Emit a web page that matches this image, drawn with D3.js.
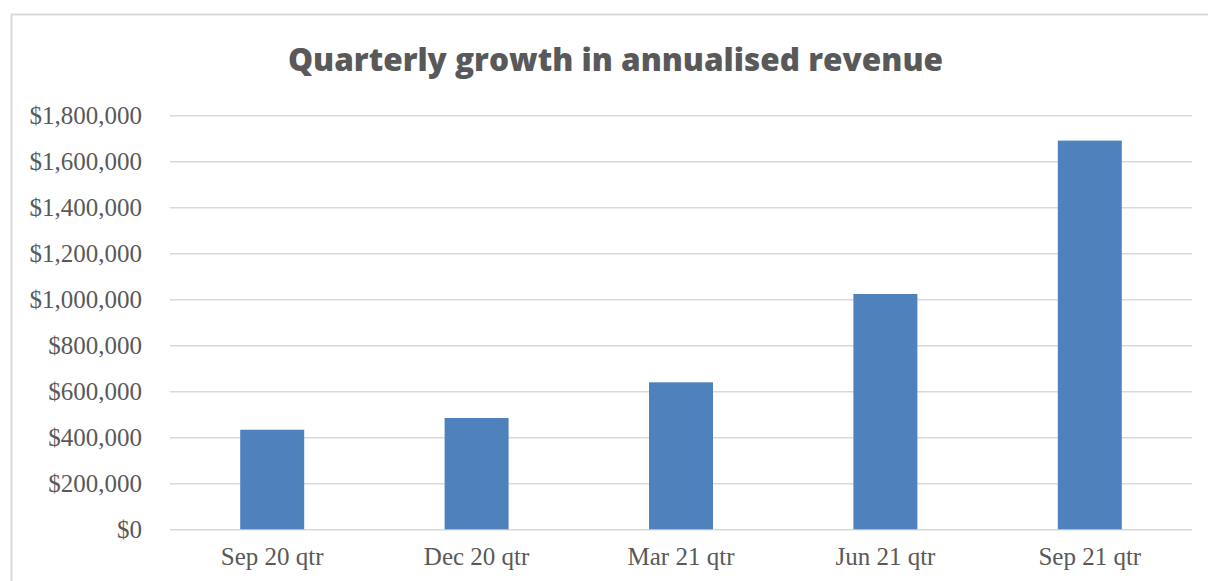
<!DOCTYPE html>
<html><head><meta charset="utf-8">
<script src="https://cdn.jsdelivr.net/npm/d3@7"></script>
<style>body{margin:0;background:#fff}svg{display:block}</style>
</head><body>
<svg id="c" width="1208" height="581"></svg>
<script>
const categories = ["Sep 20 qtr","Dec 20 qtr","Mar 21 qtr","Jun 21 qtr","Sep 21 qtr"];
const revenue = [433000, 484000, 639000, 1023000, 1690000];
const yTicks = [0,200000,400000,600000,800000,1000000,1200000,1400000,1600000,1800000];
const title = "Quarterly growth in annualised revenue";

const svg = d3.select("#c");
const m = {left:170, right:1192, top:115.3, bottom:529.3};

svg.append("rect").attr("x",11.5).attr("y",14.5).attr("width",1300).attr("height",700)
  .attr("fill","#fff").attr("stroke","#d9d9d9").attr("stroke-width",2);

const x = d3.scaleBand().domain(categories).range([m.left,m.right]).paddingInner(0.687).paddingOuter(0.3435);
const y = d3.scaleLinear().domain([0,1800000]).range([m.bottom,m.top]);

const fmt = d => "$" + d3.format(",")(d);
const serif = "'Liberation Serif','DejaVu Serif',serif";

const ya = svg.append("g").attr("transform",`translate(${m.left},0)`)
  .call(d3.axisLeft(y).tickValues(yTicks).tickFormat(fmt).tickSize(-(m.right-m.left)).tickPadding(28));
ya.select(".domain").remove();
ya.selectAll(".tick line").attr("stroke","#d9d9d9").attr("stroke-width",1.5);
ya.selectAll(".tick text").attr("fill","#595959").style("font-family",serif).style("font-size","25px");

svg.append("g").selectAll("rect").data(revenue).join("rect")
  .attr("x",(d,i)=>x(categories[i])).attr("width",x.bandwidth())
  .attr("y",d=>y(d)).attr("height",d=>y(0)-y(d)).attr("fill","#4f81bd");

const xa = svg.append("g").attr("transform",`translate(0,${m.bottom})`)
  .call(d3.axisBottom(x).tickSize(0).tickPadding(18));
xa.select(".domain").remove();
xa.selectAll(".tick text").attr("fill","#595959").style("font-family",serif).style("font-size","25px");

const t = svg.append("text").attr("x",(288+943)/2).attr("y",71).attr("text-anchor","middle")
  .attr("fill","#595959").style("font-family","'Open Sans',sans-serif").style("font-weight","800")
  .style("font-size","30px").text(title);
const w = t.node().getComputedTextLength();
t.style("font-size", (30*655/w).toFixed(2)+"px");
</script>
</body></html>
